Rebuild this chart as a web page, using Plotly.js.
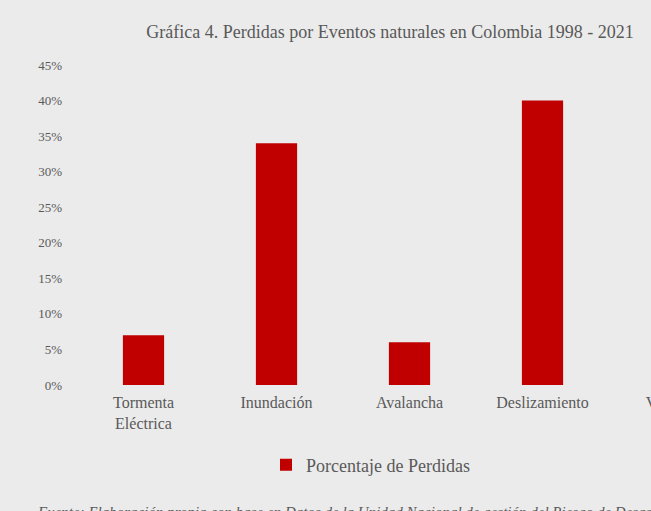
<!DOCTYPE html>
<html>
<head>
<meta charset="utf-8">
<script src="https://cdn.plot.ly/plotly-3.0.1.min.js"></script>
<style>
html,body{margin:0;padding:0;overflow:hidden;background:#ebebeb;width:651px;height:511px;}
#chart{width:780px;height:511px;}
</style>
</head>
<body>
<div id="chart"></div>
<script>
const categories = ["Tormenta<br>Eléctrica", "Inundación", "Avalancha", "Deslizamiento", "Vendaval"];
const values = [7, 34, 6, 40, 13];
const tickVals = [0, 5, 10, 15, 20, 25, 30, 35, 40, 45];
const tickText = ["0%", "5%", "10%", "15%", "20%", "25%", "30%", "35%", "40%", "45%"];
const seriesName = "Porcentaje de Perdidas";
const titleText = "Gráfica 4. Perdidas por Eventos naturales en Colombia 1998 - 2021";
const sourceText = "Fuente: Elaboración propia con base en Datos de la Unidad Nacional de gestión del Riesgo de Desastres";

const font = "Liberation Serif, Times New Roman, serif";
const grey = "#595959";

Plotly.newPlot("chart", [{
  type: "bar",
  x: categories,
  y: values,
  name: seriesName,
  marker: {color: "#c00000"},
  showlegend: true
}], {
  width: 780,
  height: 511,
  paper_bgcolor: "#ebebeb",
  plot_bgcolor: "#ebebeb",
  margin: {l: 77, r: 38, t: 65, b: 126},
  bargap: 0.69,
  font: {family: font, color: grey},
  title: {
    text: titleText,
    font: {family: font, size: 18, color: grey},
    xref: "container", x: 390 / 780, xanchor: "center",
    yref: "container", y: 1 - 32/511, yanchor: "middle"
  },
  xaxis: {
    showgrid: false, showline: false, zeroline: false,
    tickfont: {family: font, size: 16, color: grey},
    ticks: "",
    ticklabelstandoff: 6
  },
  yaxis: {
    range: [0, 45],
    tickvals: tickVals,
    ticktext: tickText,
    showgrid: false, showline: false, zeroline: false,
    tickfont: {family: font, size: 13, color: grey},
    ticklabelstandoff: 14
  },
  showlegend: true,
  legend: {
    orientation: "h",
    x: (266 - 77) / 665, xanchor: "left",
    y: (385 - 465) / 320, yanchor: "middle",
    font: {family: font, size: 18, color: grey},
    bgcolor: "rgba(0,0,0,0)"
  },
  annotations: [{
    text: "<i>" + sourceText + "</i>",
    xref: "paper", yref: "paper",
    x: (35 - 77) / 665, xanchor: "left",
    y: (385 - 502) / 320, yanchor: "top",
    showarrow: false,
    font: {family: font, size: 15, color: grey}
  }]
}, {displayModeBar: false, staticPlot: true});
</script>
</body>
</html>
